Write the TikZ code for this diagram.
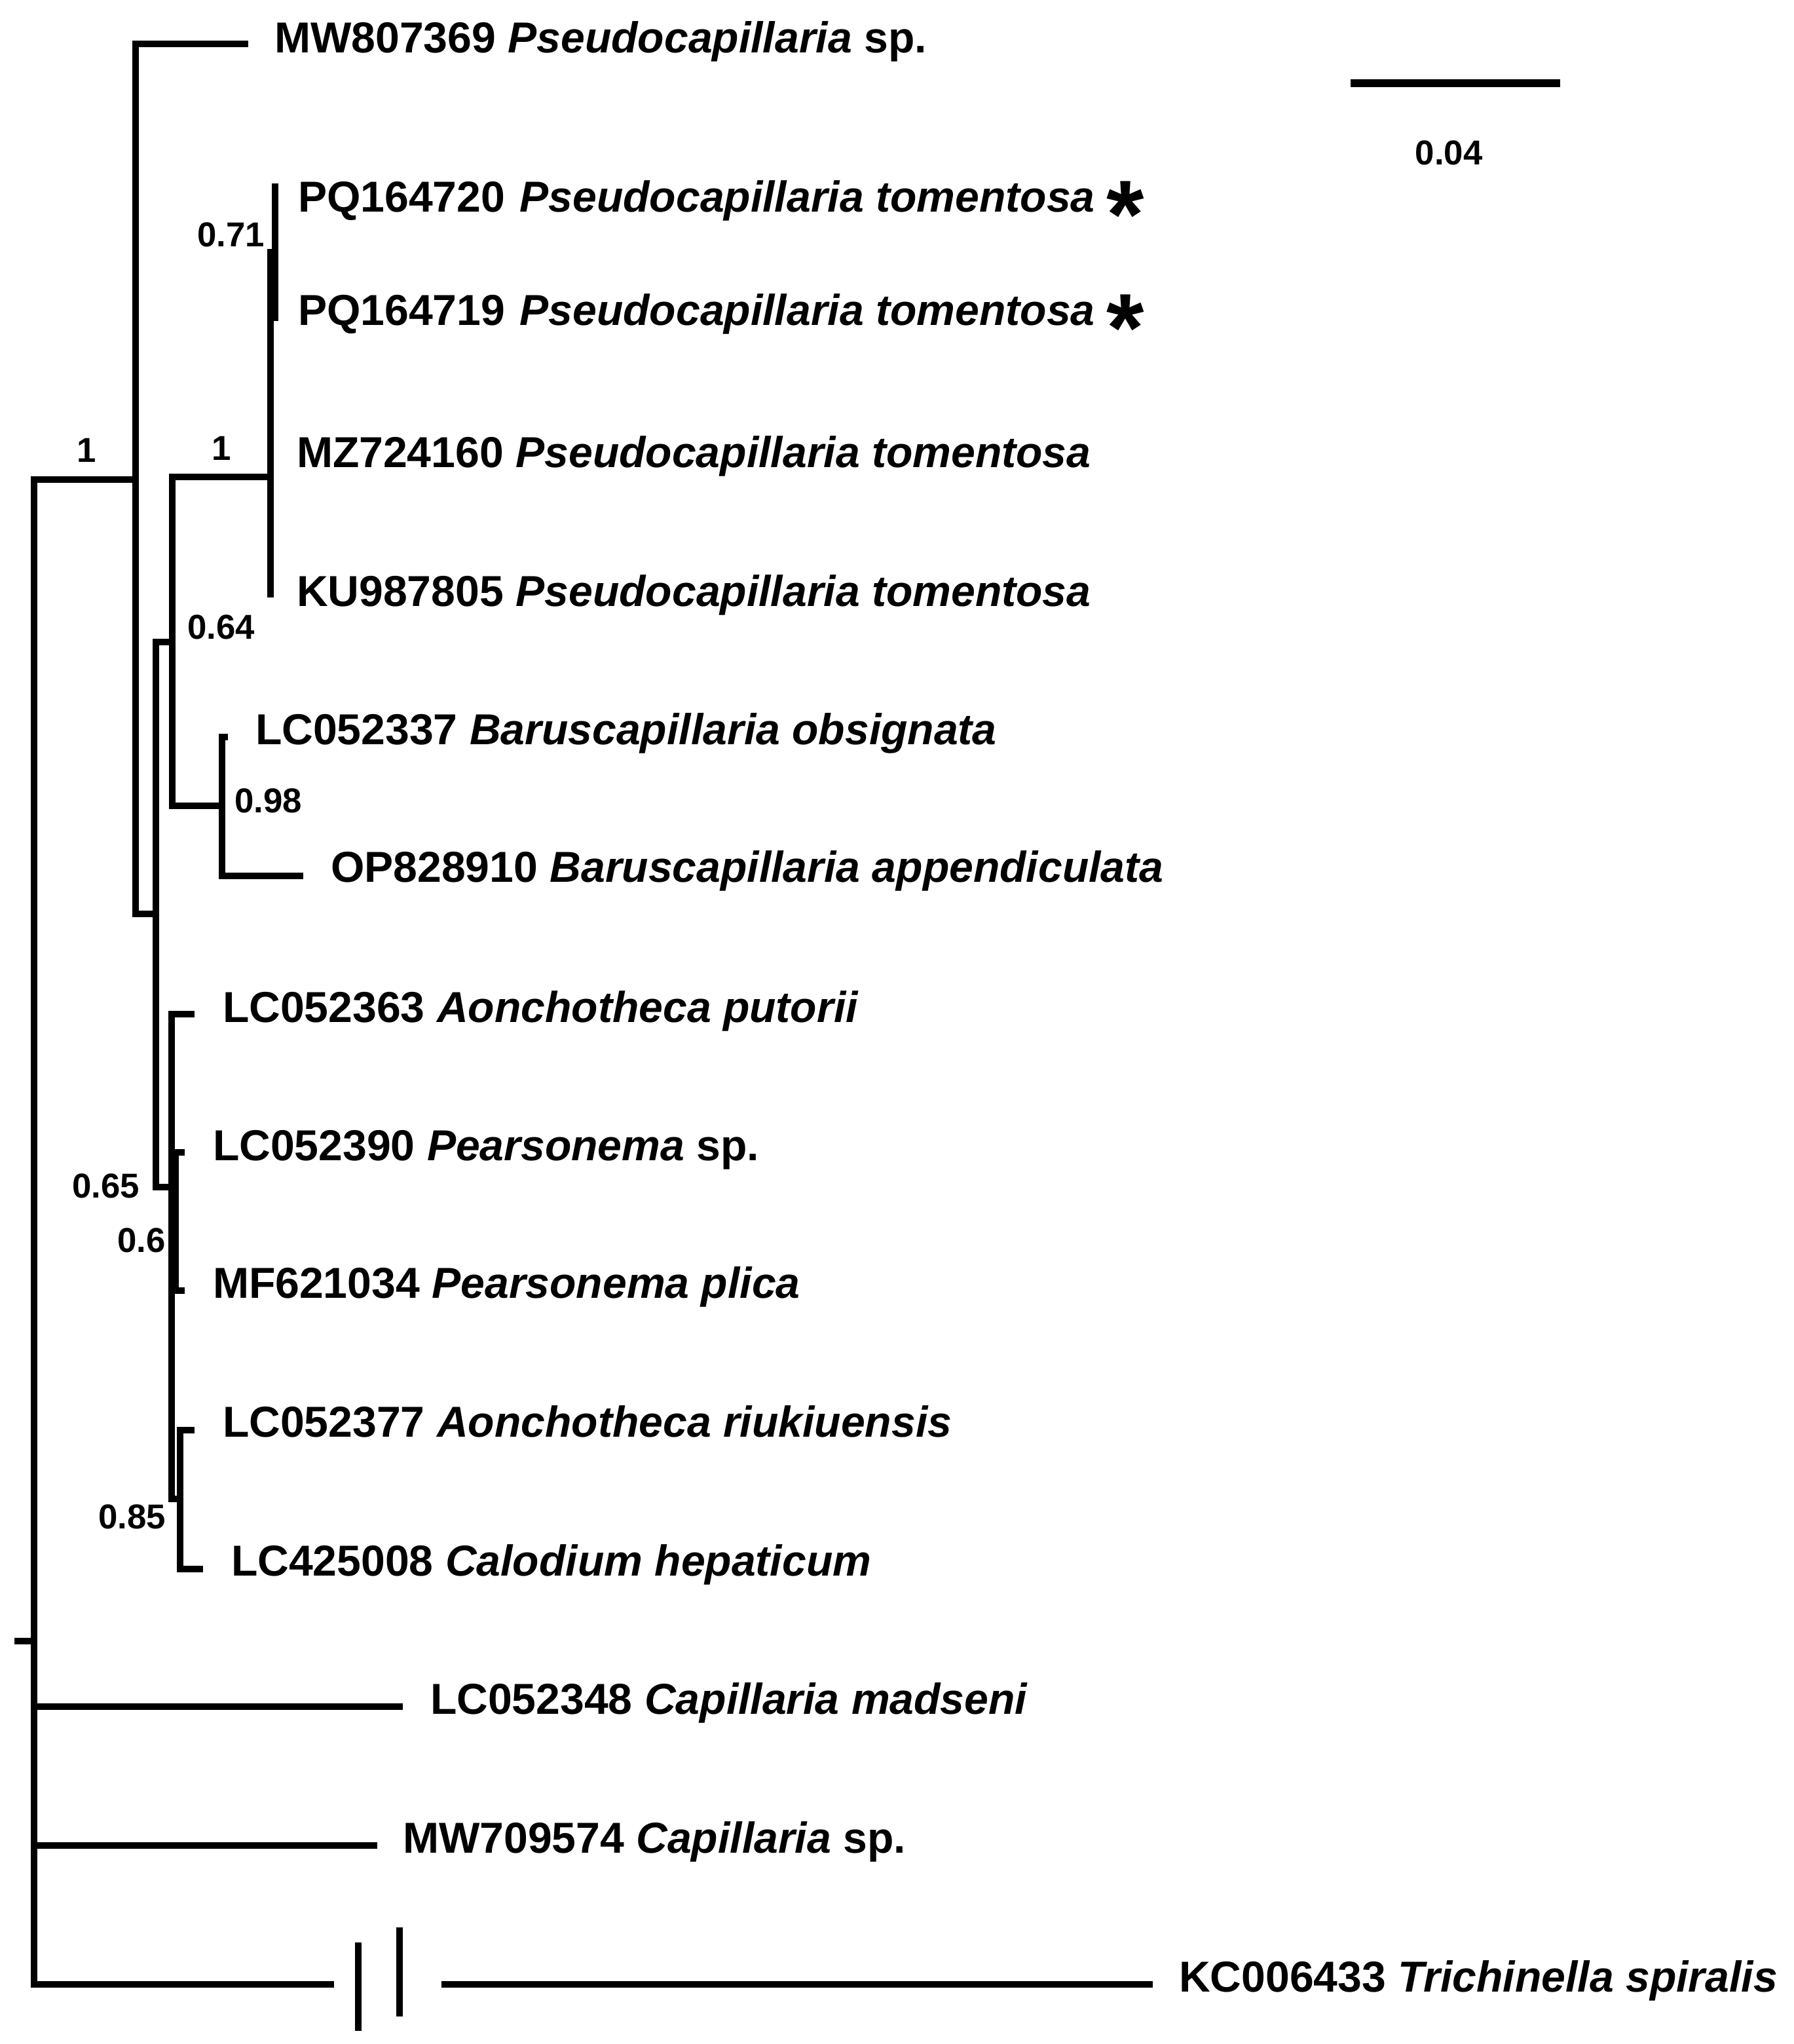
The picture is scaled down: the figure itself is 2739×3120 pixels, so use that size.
\documentclass[tikz,border=0pt]{standalone}
\usepackage{fontspec}
\setmainfont{Liberation Sans}
\newcommand\tipfont{\fontsize{18.8pt}{21pt}\selectfont\bfseries}
\newcommand\bsfont{\fontsize{15pt}{17pt}\selectfont\bfseries}
\newcommand\astk{\raisebox{-0.55cm}{\fontsize{42pt}{42pt}\selectfont *}}
\tikzset{
  branch/.style={line width=3pt, line join=miter, line cap=butt},
  taxon/.style={anchor=base west, inner sep=0pt, outer sep=0pt, font=\tipfont},
  bslab/.style={anchor=center, inner sep=0pt, outer sep=0pt, font=\bsfont},
}
\begin{document}
\begin{tikzpicture}[x=0.01cm,y=-0.01cm]
\useasboundingbox (0,0) rectangle (2739,3120);
% internal nodes
\coordinate (rs) at (22,2505);
\coordinate (R) at (52,2505);
\coordinate (A) at (207,732);
\coordinate (B) at (238,1395);
\coordinate (C) at (263,980);
\coordinate (D) at (413,728);
\coordinate (G) at (420,385);
\coordinate (E) at (339,1230);
\coordinate (F) at (262,1812);
\coordinate (H) at (268,1865);
\coordinate (I) at (275,2288);
% tips
\coordinate (t1) at (379,67);
\coordinate (t2) at (420,280);
\coordinate (t3) at (420,490);
\coordinate (t5) at (413,912);
\coordinate (t6) at (348,1125);
\coordinate (t7) at (463,1337);
\coordinate (t8) at (297,1548);
\coordinate (t9) at (282,1759);
\coordinate (t10) at (282,1970);
\coordinate (t11) at (297,2183);
\coordinate (t12) at (310,2395);
\coordinate (t13) at (615,2605);
\coordinate (t14) at (576,2817);
\coordinate (k1) at (510,3029);
\coordinate (k2) at (674,3029);
\coordinate (t15) at (1760,3029);
\coordinate (b1a) at (547,2965);
\coordinate (b1b) at (547,3100);
\coordinate (b2a) at (610,2942);
\coordinate (b2b) at (610,3078);
% branches
\draw[branch] (rs) -- (R);
\draw[branch] (R) |- (A);
\draw[branch] (R) |- (t13);
\draw[branch] (R) |- (t14);
\draw[branch] (R) |- (k1);
\draw[branch] (k2) -- (t15);
\draw[branch] (b1a) -- (b1b);
\draw[branch] (b2a) -- (b2b);
\draw[branch] (A) |- (t1);
\draw[branch] (A) |- (B);
\draw[branch] (B) |- (C);
\draw[branch] (B) |- (F);
\draw[branch] (C) |- (D);
\draw[branch] (C) |- (E);
\draw[branch] (D) |- (G);
\draw[branch] (D) -- (t5);
\draw[branch] (G) -- (t2);
\draw[branch] (G) -- (t3);
\draw[branch] (E) |- (t6);
\draw[branch] (E) |- (t7);
\draw[branch] (F) |- (t8);
\draw[branch] (F) |- (H);
\draw[branch] (F) |- (I);
\draw[branch] (H) |- (t9);
\draw[branch] (H) |- (t10);
\draw[branch] (I) |- (t11);
\draw[branch] (I) |- (t12);
% taxon labels
\node[taxon] (n1) at (419,80) {MW807369 \textit{Pseudocapillaria} sp.};
\node[taxon] (n2) at (455,323) {PQ164720 \hspace{0.04cm}\textit{Pseudocapillaria tomentosa} \astk};
\node[taxon] (n3) at (455,496) {PQ164719 \hspace{0.04cm}\textit{Pseudocapillaria tomentosa} \astk};
\node[taxon] (n4) at (453,713) {MZ724160 \textit{Pseudocapillaria tomentosa}};
\node[taxon] (n5) at (453,925) {KU987805 \textit{Pseudocapillaria tomentosa}};
\node[taxon] (n6) at (390,1136) {LC052337 \textit{Baruscapillaria obsignata}};
\node[taxon] (n7) at (505,1346) {OP828910 \textit{Baruscapillaria appendiculata}};
\node[taxon] (n8) at (340,1560) {LC052363 \textit{Aonchotheca putorii}};
\node[taxon] (n9) at (325,1771) {LC052390 \textit{Pearsonema} sp.};
\node[taxon] (n10) at (325,1981) {MF621034 \textit{Pearsonema plica}};
\node[taxon] (n11) at (340,2193) {LC052377 \textit{Aonchotheca riukiuensis}};
\node[taxon] (n12) at (353,2405) {LC425008 \textit{Calodium hepaticum}};
\node[taxon] (n13) at (657,2616) {LC052348 \textit{Capillaria madseni}};
\node[taxon] (n14) at (615,2828) {MW709574 \textit{Capillaria} sp.};
\node[taxon] (n15) at (1800,3040) {KC006433 \textit{Trichinella spiralis}};
% support values
\node[bslab] (s1) at (132,687) {1};
\node[bslab] (s2) at (338,684) {1};
\node[bslab] (s3) at (353,358) {0.71};
\node[bslab] (s4) at (338,957) {0.64};
\node[bslab] (s5) at (410,1222) {0.98};
\node[bslab] (s6) at (162,1810) {0.65};
\node[bslab] (s7) at (216,1893) {0.6};
\node[bslab] (s8) at (202,2315) {0.85};
% scale bar
\coordinate (sbL) at (2062,127);
\coordinate (sbR) at (2382,127);
\draw[branch, line width=3.4pt] (sbL) -- (sbR);
\node[bslab] (sblab) at (2212,233) {0.04};
\end{tikzpicture}
\end{document}
